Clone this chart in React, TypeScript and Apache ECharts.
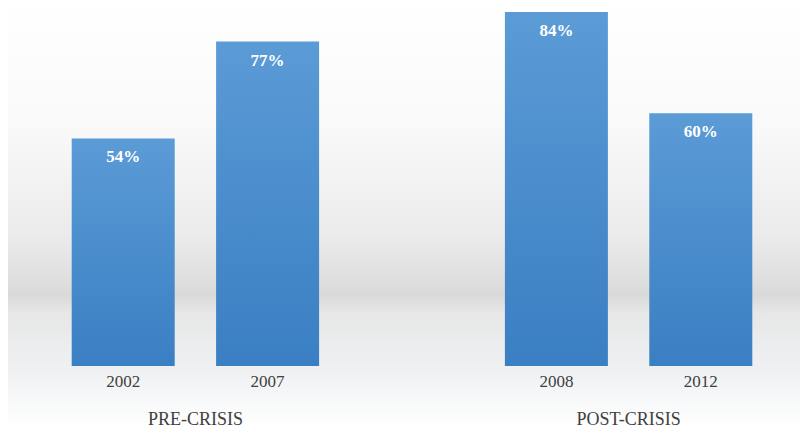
import React, { useEffect, useRef } from "react";
import * as echarts from "echarts";

const categories = ["2002", "2007", "", "2008", "2012"];
const values: (number | null)[] = [54, 77, null, 84, 60];
const groupLabels = ["PRE-CRISIS", "POST-CRISIS"];
const groupMembers = [["2002", "2007"], ["2008", "2012"]];

export default function App() {
  const ref = useRef<HTMLDivElement>(null);
  useEffect(() => {
    if (!ref.current) return;
    const chart = echarts.init(ref.current, undefined, { renderer: "svg" });
    const serif = "Liberation Serif";
    chart.setOption({
      animation: false,
      grid: { left: 51, right: 35, top: 12, bottom: 62 },
      xAxis: {
        type: "category",
        data: categories,
        axisLine: { show: false },
        axisTick: { show: false },
        axisLabel: { color: "#404040", fontFamily: serif, fontSize: 17, margin: 7 },
      },
      yAxis: { type: "value", min: 0, max: 84, show: false, splitLine: { show: false } },
      series: [
        {
          type: "bar",
          data: values,
          barWidth: 103,
          itemStyle: {
            color: new echarts.graphic.LinearGradient(0, 0, 0, 1, [
              { offset: 0, color: "#5b9bd6" },
              { offset: 1, color: "#3a7fc3" },
            ]),
          },
          label: {
            show: true,
            position: "insideTop",
            distance: 10,
            formatter: "{c}%",
            color: "#ffffff",
            fontFamily: serif,
            fontWeight: "bold",
            fontSize: 17,
          },
        },
      ],
    });
    const bg = {
      type: "rect",
      z: -10,
      silent: true,
      shape: { x: 8, y: 0, width: 792, height: 428 },
      style: {
        fill: new echarts.graphic.LinearGradient(0, 0, 0, 1, [
          { offset: 0, color: "#ffffff" },
          { offset: 0.3, color: "#f9f9f9" },
          { offset: 0.55, color: "#ebebeb" },
          { offset: 0.66, color: "#dedede" },
          { offset: 0.69, color: "#d9d9d9" },
          { offset: 0.73, color: "#e7e7e7" },
          { offset: 0.86, color: "#eef0f2" },
          { offset: 1, color: "#ffffff" },
        ]),
      },
    };
    const texts = groupLabels.map((g, i) => {
      const xs = groupMembers[i].map((c) => chart.convertToPixel({ xAxisIndex: 0 }, c) as number);
      const cx = (xs[0] + xs[1]) / 2;
      return {
        type: "text",
        x: cx,
        y: 418.5,
        style: {
          text: g,
          fill: "#404040",
          fontFamily: serif,
          fontSize: 18,
          align: "center",
          verticalAlign: "middle",
        },
      };
    });
    chart.setOption({ graphic: [bg, ...texts] });
    return () => chart.dispose();
  }, []);
  return <div ref={ref} style={{ width: 808, height: 428, position: "absolute", left: 0, top: 0 }} />;
}
